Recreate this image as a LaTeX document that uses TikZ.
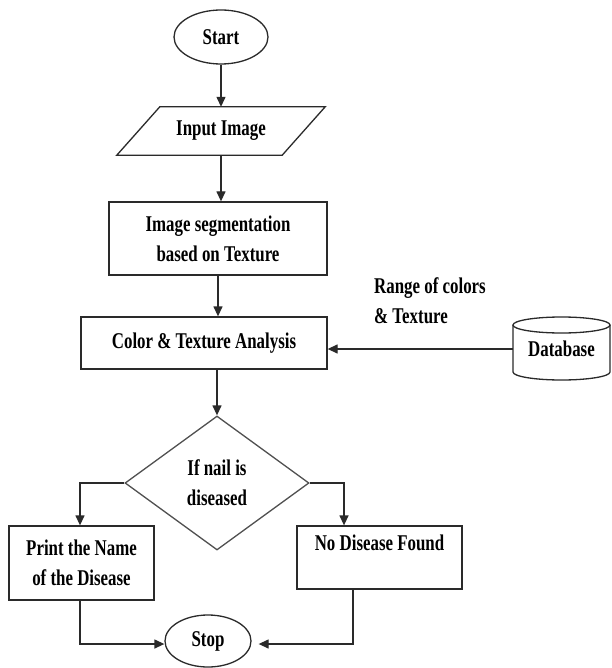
\documentclass[tikz,border=0pt]{standalone}
\usepackage{fontspec}
\setmainfont[FakeStretch=0.75]{Liberation Serif}
\usetikzlibrary{shapes.geometric,arrows.meta,calc}
\definecolor{linec}{HTML}{2A2A2A}
\definecolor{diac}{HTML}{505050}
\begin{document}
\begin{tikzpicture}[x=1pt,y=-1pt,
  every node/.style={font=\bfseries\fontsize{22.5}{30}\selectfont, align=center, inner sep=0pt},
  boxn/.style={draw=linec, line width=1.3pt, rectangle},
  ovaln/.style={draw=linec, line width=1.3pt, ellipse},
  arr/.style={draw=linec, line width=1.3pt, -{Triangle[length=10pt,width=9pt]}},
  plainline/.style={draw=linec, line width=1.3pt}]
\useasboundingbox (0,0) rectangle (611,668);
\fill[white] (0,0) rectangle (611,668);

\node[ovaln, minimum width=94pt, minimum height=54pt] (start) at (221,37) {Start};
\node[minimum width=165pt, minimum height=48pt] (input) at (221,131) {Input Image};
\draw[plainline] ([xshift=21.5pt]input.north west) -- ([xshift=21.5pt]input.north east)
  -- ([xshift=-21.5pt]input.south east) -- ([xshift=-21.5pt]input.south west) -- cycle;
\node[boxn, minimum width=218pt, minimum height=73pt] (seg) at (218,238.5) {Image segmentation\\based on Texture};
\node[boxn, minimum width=246pt, minimum height=52pt] (color) at (204,343) {Color \& Texture Analysis};
\node[anchor=west, align=left] (range) at (374,301) {Range of colors\\\& Texture};
\node[minimum width=97pt, minimum height=63pt] (db) at (561.5,349) {Database};
\draw[plainline] (561.5,325) ellipse [x radius=48.5pt, y radius=8pt];
\draw[plainline] (513,325) -- (513,372) arc [start angle=180, end angle=360, x radius=48.5pt, y radius=8pt] -- (610,325);
\node[diamond, draw=diac, line width=1.3pt, minimum width=184pt, minimum height=134pt] (dec) at (217,483) {If nail is\\diseased};
\node[boxn, minimum width=145pt, minimum height=74pt] (print) at (81.5,563) {Print the Name\\of the Disease};
\node[boxn, minimum width=165pt, minimum height=63pt] (nod) at (379.5,557.5) {No Disease Found\\\mbox{}};
\node[ovaln, minimum width=86pt, minimum height=52pt] (stop) at (208,641) {Stop};

\draw[arr] (start.south) -- (input.north);
\draw[arr] (input.south) -- (input.south |- seg.north);
\draw[arr] (seg.south) -- (seg.south |- color.north);
\draw[arr] (dec.north |- color.south) -- (dec.north);
\draw[arr] (db.west) -- (db.west -| color.east);
\draw[arr] (dec.west) -| ([xshift=-1.5pt]print.north);
\draw[arr] (dec.east) -| ([xshift=-35.5pt]nod.north);
\draw[arr] ([xshift=-1.5pt]print.south) |- ([yshift=-3pt]stop.west);
\draw[arr] ([xshift=-26.5pt]nod.south) |- ([xshift=7pt,yshift=-3pt]stop.east);
\end{tikzpicture}
\end{document}
